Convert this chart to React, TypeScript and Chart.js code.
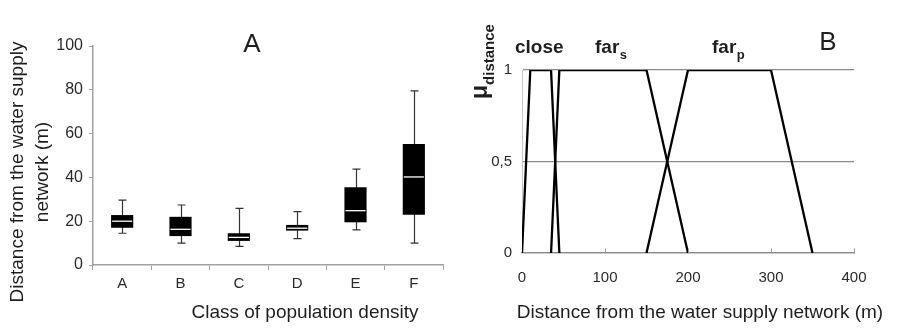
import React, { useEffect, useRef } from 'react';
import { Chart, registerables } from 'chart.js';

Chart.register(...registerables);

// ---------- Panel A data (box plots) ----------
const classes = ['A', 'B', 'C', 'D', 'E', 'F'];
const whiskerLow = [14.5, 10, 8.5, 12, 16, 10];
const quartile1 = [17, 13.2, 11, 15.7, 19.5, 23];
const median = [20, 16.3, 12.6, 16.8, 24.8, 40.2];
const quartile3 = [22.8, 22, 14.5, 18.3, 35.5, 55.3];
const whiskerHigh = [29.6, 27.4, 25.9, 24.4, 43.8, 79.5];
const yTicksA = [0, 20, 40, 60, 80, 100];

// ---------- Panel B data (membership functions) ----------
const closeX = [0, 10, 35, 45];
const closeY = [0, 1, 1, 0];
const farSX = [35, 45, 150, 200];
const farSY = [0, 1, 1, 0];
const farPX = [150, 200, 300, 350];
const farPY = [0, 1, 1, 0];
const distanceTicks = [0, 100, 200, 300, 400];
const membershipTicks = [0, 0.5, 1];
const membershipTickLabels = ['0', '0,5', '1'];

const panelATitle = 'A';
const panelBTitle = 'B';
const yTitleA = ['Distance from the water supply', 'network (m)'];
const xTitleA = 'Class of population density';
const xTitleB = 'Distance from the water supply network (m)';

const FONT = '"Liberation Sans", Arial, Helvetica, sans-serif';
const TEXT = '#1e1e1e';

const boxPlugin = {
  id: 'boxWhiskers',
  beforeDatasetsDraw(chart: any) {
    const { ctx, scales } = chart;
    const x = scales.x, y = scales.y;
    ctx.save();
    ctx.strokeStyle = '#333';
    ctx.lineWidth = 1.2;
    classes.forEach((_, i) => {
      const px = Math.round(x.getPixelForValue(i)) + 0.5;
      const yl = y.getPixelForValue(whiskerLow[i]);
      const yh = y.getPixelForValue(whiskerHigh[i]);
      ctx.beginPath();
      ctx.moveTo(px, yl);
      ctx.lineTo(px, yh);
      ctx.moveTo(px - 4, yl);
      ctx.lineTo(px + 4, yl);
      ctx.moveTo(px - 4, yh);
      ctx.lineTo(px + 4, yh);
      ctx.stroke();
    });
    ctx.restore();
  },
  afterDatasetsDraw(chart: any) {
    const { ctx, scales } = chart;
    const y = scales.y;
    const meta = chart.getDatasetMeta(0);
    ctx.save();
    ctx.strokeStyle = '#ffffff';
    ctx.lineWidth = 1.3;
    meta.data.forEach((bar: any, i: number) => {
      const w = bar.width;
      const py = y.getPixelForValue(median[i]);
      ctx.beginPath();
      ctx.moveTo(bar.x - w / 2 + 1, py);
      ctx.lineTo(bar.x + w / 2 - 1, py);
      ctx.stroke();
    });
    ctx.restore();
  },
};

const panelATextPlugin = {
  id: 'panelAText',
  afterDraw(chart: any) {
    const ctx = chart.ctx;
    ctx.save();
    ctx.fillStyle = TEXT;
    ctx.textAlign = 'center';
    ctx.textBaseline = 'alphabetic';
    ctx.font = `26px ${FONT}`;
    ctx.fillText(panelATitle, 252, 52);
    ctx.font = `19px ${FONT}`;
    ctx.fillText(xTitleA, 305, 318);
    const baselines = [23, 48];
    yTitleA.forEach((line, i) => {
      ctx.save();
      ctx.translate(baselines[i], 172);
      ctx.rotate(-Math.PI / 2);
      ctx.fillText(line, 0, 0);
      ctx.restore();
    });
    ctx.restore();
  },
};

const panelBPlugin = {
  id: 'panelBText',
  afterDraw(chart: any) {
    const { ctx, scales } = chart;
    const x = scales.x, y = scales.y;
    ctx.save();
    // inner tick marks on x axis
    ctx.strokeStyle = '#999';
    ctx.lineWidth = 1;
    const y0 = Math.round(y.getPixelForValue(0)) + 0.5;
    distanceTicks.forEach((t) => {
      if (t === 0) return;
      const px = Math.round(x.getPixelForValue(t)) + 0.5;
      ctx.beginPath();
      ctx.moveTo(px, y0);
      ctx.lineTo(px, y0 - 5);
      ctx.stroke();
    });
    ctx.fillStyle = TEXT;
    ctx.textBaseline = 'alphabetic';
    // panel letter
    ctx.textAlign = 'center';
    ctx.font = `26px ${FONT}`;
    ctx.fillText(panelBTitle, 378, 50);
    // x title
    ctx.font = `19px ${FONT}`;
    ctx.fillText(xTitleB, 250, 318);
    // function labels
    ctx.textAlign = 'left';
    ctx.font = `bold 19px ${FONT}`;
    ctx.fillText('close', 65, 53);
    const drawSub = (main: string, sub: string, px: number) => {
      ctx.font = `bold 19px ${FONT}`;
      ctx.fillText(main, px, 53);
      const w = ctx.measureText(main).width;
      ctx.font = `bold 13px ${FONT}`;
      ctx.fillText(sub, px + w + 0.5, 59);
    };
    drawSub('far', 's', 145);
    drawSub('far', 'p', 262);
    // y title: mu_distance rotated
    ctx.save();
    ctx.translate(37, 99);
    ctx.rotate(-Math.PI / 2);
    ctx.font = `bold 23px ${FONT}`;
    ctx.fillText('\u03bc', 0, 0);
    const mw = ctx.measureText('\u03bc').width;
    ctx.font = `bold 15px ${FONT}`;
    ctx.fillText('distance', mw, 7);
    ctx.restore();
    ctx.restore();
  },
};

export default function App() {
  const refA = useRef<HTMLCanvasElement | null>(null);
  const refB = useRef<HTMLCanvasElement | null>(null);

  useEffect(() => {
    Chart.defaults.font.family = FONT;
    Chart.defaults.color = '#2a2a2a';

    const chartA = new Chart(refA.current as HTMLCanvasElement, {
      type: 'bar',
      data: {
        labels: classes,
        datasets: [
          {
            data: classes.map((_, i) => [quartile1[i], quartile3[i]]) as any,
            backgroundColor: '#000000',
            borderWidth: 0,
            barPercentage: 0.38,
            categoryPercentage: 1,
          },
        ],
      },
      options: {
        responsive: false,
        animation: false,
        layout: { padding: { top: 46, right: 7, left: 0, bottom: 0 } },
        plugins: { legend: { display: false }, tooltip: { enabled: false } },
        scales: {
          x: {
            offset: true,
            grid: { display: true, drawOnChartArea: false, drawTicks: true, tickLength: 5, color: '#a0a0a0', offset: true },
            border: { display: true, color: '#a0a0a0', width: 1.5 },
            ticks: { font: { size: 15 }, padding: 5, color: '#2a2a2a' },
            afterFit: (s: any) => { s.height = 63; },
          },
          y: {
            min: 0,
            max: 100,
            afterBuildTicks: (s: any) => { s.ticks = yTicksA.map((v) => ({ value: v })); },
            grid: { display: true, drawOnChartArea: false, drawTicks: true, tickLength: 4, color: '#a0a0a0' },
            border: { display: true, color: '#a0a0a0', width: 1.5 },
            ticks: { font: { size: 16 }, padding: 6, color: '#2a2a2a' },
            afterFit: (s: any) => { s.width = 93; },
          },
        },
      },
      plugins: [boxPlugin, panelATextPlugin],
    } as any);

    const toPts = (xs: number[], ys: number[]) => xs.map((v, i) => ({ x: v, y: ys[i] }));
    const lineStyle = { showLine: true, pointRadius: 0, borderColor: '#000', borderWidth: 2.3, fill: false, tension: 0 };

    const chartB = new Chart(refB.current as HTMLCanvasElement, {
      type: 'scatter',
      data: {
        datasets: [
          { data: toPts(closeX, closeY), ...lineStyle },
          { data: toPts(farSX, farSY), ...lineStyle },
          { data: toPts(farPX, farPY), ...lineStyle },
        ],
      },
      options: {
        responsive: false,
        animation: false,
        layout: { padding: { top: 70, right: 43, left: 0, bottom: 0 } },
        plugins: { legend: { display: false }, tooltip: { enabled: false } },
        scales: {
          x: {
            type: 'linear',
            min: 0,
            max: 400,
            afterBuildTicks: (s: any) => { s.ticks = distanceTicks.map((v) => ({ value: v })); },
            grid: { display: false },
            border: { display: true, color: '#8a8a8a', width: 1.2 },
            ticks: { font: { size: 15 }, padding: 8, color: '#2a2a2a' },
            afterFit: (s: any) => { s.height = 75; },
          },
          y: {
            type: 'linear',
            min: 0,
            max: 1,
            afterBuildTicks: (s: any) => { s.ticks = membershipTicks.map((v) => ({ value: v })); },
            grid: { display: true, drawTicks: false, color: '#8a8a8a', lineWidth: 1.2 },
            border: { display: true, color: '#c8c8c8', width: 1 },
            ticks: {
              font: { size: 15 },
              padding: 10,
              color: '#2a2a2a',
              callback: (v: any) => {
                const idx = membershipTicks.indexOf(Number(v));
                return idx >= 0 ? membershipTickLabels[idx] : '';
              },
            },
            afterFit: (s: any) => { s.width = 72; },
          },
        },
      },
      plugins: [panelBPlugin],
    } as any);

    return () => {
      chartA.destroy();
      chartB.destroy();
    };
  }, []);

  return (
    <div style={{ position: 'absolute', left: 0, top: 0, width: 897, height: 328, background: '#fff' }}>
      <canvas ref={refA} width={450} height={328} style={{ position: 'absolute', left: 0, top: 0 }} />
      <canvas ref={refB} width={447} height={328} style={{ position: 'absolute', left: 450, top: 0 }} />
    </div>
  );
}
